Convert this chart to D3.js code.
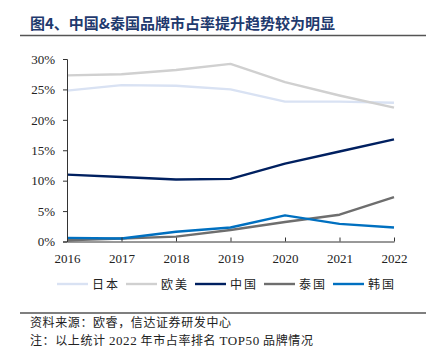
<!DOCTYPE html>
<html><head><meta charset="utf-8">
<script src="https://cdn.jsdelivr.net/npm/d3@7"></script>
<style>body{margin:0;background:#fff}svg{display:block}</style>
</head><body>
<svg id="c" width="433" height="354"></svg>
<script>
const years = [2016, 2017, 2018, 2019, 2020, 2021, 2022];
const seriesNames = ["日本", "欧美", "中国", "泰国", "韩国"];
const japan = [24.8, 25.7, 25.6, 25.0, 23.0, 23.0, 22.8];
const euroUS = [27.3, 27.5, 28.2, 29.2, 26.2, 24.0, 22.0];
const china = [11.0, 10.6, 10.2, 10.3, 12.8, 14.8, 16.8];
const thailand = [0.2, 0.5, 0.8, 1.9, 3.2, 4.4, 7.3];
const korea = [0.6, 0.5, 1.6, 2.3, 4.3, 2.9, 2.3];
const yTicks = [0, 5, 10, 15, 20, 25, 30];
const colors = ["#D9E2F3", "#D0D0D0", "#002060", "#6E6E6E", "#0070C0"];
const values = [japan, euroUS, china, thailand, korea];

const svg = d3.select("#c");
const serif = "'Liberation Serif','Times New Roman',serif";
const cjk = "'Noto Sans CJK SC','Noto Sans CJK JP',sans-serif";

// title
svg.append("text").attr("x", 30).attr("y", 29)
  .attr("font-family", cjk).attr("font-weight", "bold").attr("font-size", 15)
  .attr("fill", "#1F3A6E").text("图4、中国&泰国品牌市占率提升趋势较为明显");
svg.append("line").attr("x1", 20).attr("x2", 426).attr("y1", 35.5).attr("y2", 35.5)
  .attr("stroke", "#555").attr("stroke-width", 1.5);

const x = d3.scalePoint().domain(years).range([67, 394]);
const y = d3.scaleLinear().domain([0, 30]).range([241.5, 59]);

// lines
const line = d3.line().x((d, i) => x(years[i])).y(d => y(d));
values.forEach((v, k) => {
  svg.append("path").datum(v).attr("d", line).attr("fill", "none")
    .attr("stroke", colors[k]).attr("stroke-width", 2.4).attr("stroke-linejoin", "round");
});

// axes
const yAxis = d3.axisLeft(y).tickValues(yTicks).tickFormat(d => d + "%").tickSize(4).tickPadding(8);
const gy = svg.append("g").attr("transform", "translate(67,0)").call(yAxis);
gy.select(".domain").attr("stroke", "#333");
gy.selectAll(".tick line").attr("stroke", "#333");
gy.selectAll("text").attr("font-family", serif).attr("font-size", 13).attr("fill", "#222");

const xAxis = d3.axisBottom(x).tickSize(-4).tickSizeOuter(0).tickPadding(12);
const gx = svg.append("g").attr("transform", "translate(0,241.5)").call(xAxis);
gx.select(".domain").attr("stroke", "#333");
gx.selectAll(".tick line").attr("stroke", "#333");
gx.selectAll("text").attr("font-family", serif).attr("font-size", 13).attr("fill", "#222");

// legend
const legX = [57, 126, 195, 264, 333];
seriesNames.forEach((n, k) => {
  const g = svg.append("g").attr("transform", `translate(${legX[k]},284)`);
  g.append("line").attr("x1", 0).attr("x2", 31).attr("y1", 0).attr("y2", 0)
    .attr("stroke", colors[k]).attr("stroke-width", 2.4);
  g.append("text").attr("x", 35).attr("y", 4.5).attr("font-family", cjk)
    .attr("font-size", 12).attr("letter-spacing", 2).attr("fill", "#222").text(n);
});

// footer
svg.append("line").attr("x1", 20).attr("x2", 426).attr("y1", 313).attr("y2", 313)
  .attr("stroke", "#555").attr("stroke-width", 1.5);
svg.append("text").attr("x", 30).attr("y", 327).attr("font-family", cjk)
  .attr("font-size", 12).attr("letter-spacing", 0.6).attr("fill", "#222").text("资料来源：欧睿，信达证券研发中心");
svg.append("text").attr("x", 30).attr("y", 345).attr("font-family", cjk)
  .attr("font-size", 12).attr("letter-spacing", 0.6).attr("fill", "#222")
  .html("注：以上统计 <tspan font-family=\"Liberation Serif\" font-size=\"13\">2022</tspan> 年市占率排名 <tspan font-family=\"Liberation Serif\" font-size=\"13\">TOP50</tspan> 品牌情况");
</script>
</body></html>
